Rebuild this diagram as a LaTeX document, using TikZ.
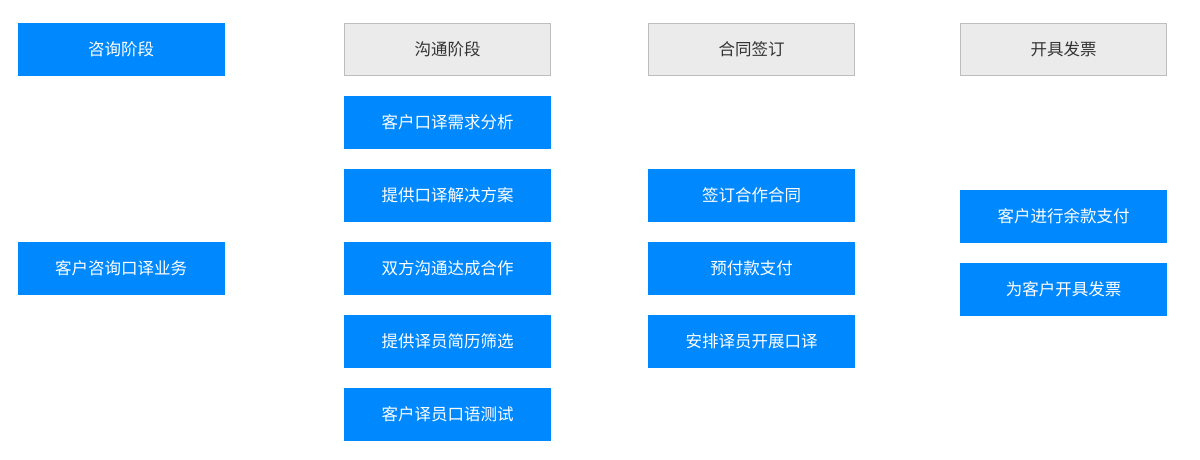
\documentclass[tikz,border=0pt]{standalone}
\usepackage{fontspec}
\setmainfont{Noto Sans CJK SC}
\usetikzlibrary{positioning}
\definecolor{stepblue}{RGB}{0,136,255}
\definecolor{headgray}{RGB}{235,235,235}
\definecolor{headline}{RGB}{190,190,190}
\definecolor{headtext}{RGB}{51,51,51}
\begin{document}
\begin{tikzpicture}[
        x=1pt, y=1pt,
        node distance=21pt,
        item/.style={rectangle, draw=stepblue, fill=stepblue, text=white, minimum width=206pt, minimum height=52pt, inner sep=0pt, outer sep=0pt, align=center, font=\fontsize{16.5}{20}\selectfont},
        head/.style={item, draw=headline, fill=headgray, text=headtext}
    ]
        \useasboundingbox (0,0) rectangle (1200,-459);
        % phase 1
        \node[item] (consult) at (121,-49) {咨询阶段};
        \node[item] (ask) at (121,-268) {客户咨询口译业务};
        % phase 2
        \node[head] (talk) at (447.5,-49) {沟通阶段};
        \node[item, below=of talk] (needs) {客户口译需求分析};
        \node[item, below=of needs] (plan) {提供口译解决方案};
        \node[item, below=of plan] (agree) {双方沟通达成合作};
        \node[item, below=of agree] (resume) {提供译员简历筛选};
        \node[item, below=of resume] (test) {客户译员口语测试};
        % phase 3
        \node[head] (contract) at (751.5,-49) {合同签订};
        \node[item] (sign) at (751.5,-195) {签订合作合同};
        \node[item, below=of sign] (prepay) {预付款支付};
        \node[item, below=of prepay] (arrange) {安排译员开展口译};
        % phase 4
        \node[head] (invoice) at (1063.5,-49) {开具发票};
        \node[item] (balance) at (1063.5,-216) {客户进行余款支付};
        \node[item, below=of balance] (issue) {为客户开具发票};
    \end{tikzpicture}
\end{document}
